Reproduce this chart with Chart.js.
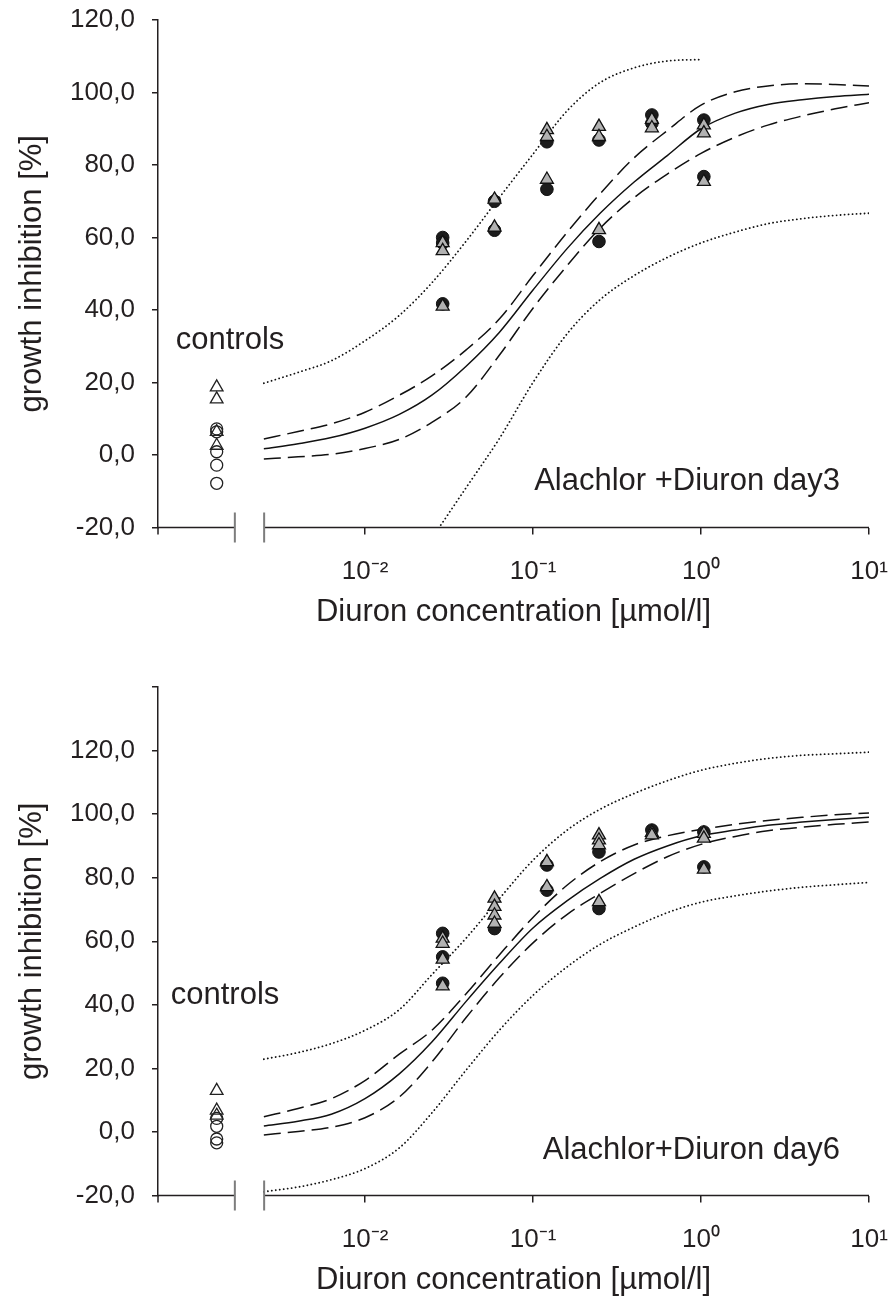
<!DOCTYPE html>
<html><head><meta charset="utf-8">
<script src="https://cdn.jsdelivr.net/npm/chart.js@4/dist/chart.umd.min.js"></script>
<style>
html,body{margin:0;padding:0;background:#fff;}
.panel{width:890px;height:652px;position:relative;}
canvas{display:block;}
</style></head><body>
<div class="panel"><canvas id="c1" width="890" height="652"></canvas></div>
<div class="panel"><canvas id="c2" width="890" height="652"></canvas></div>
<script>
// ---------- axis / tick data ----------
const X_TICKS = [0.01, 0.1, 1, 10];
const X_TICK_LABELS = ['10\u207B\u00B2', '10\u207B\u00B9', '10\u2070', '10\u00B9'];
const X_TITLE = 'Diuron concentration [µmol/l]';
const Y_TITLE = 'growth inhibition [%]';
const CONTROLS_LABEL = 'controls';
const PANEL_LABELS = ['Alachlor +Diuron day3', 'Alachlor+Diuron day6'];

// ---------- fitted curves, x in µmol/l ----------
const CURVE_X = [0.0025,0.004,0.0063,0.01,0.016,0.025,0.04,0.063,0.1,0.16,0.25,0.4,0.63,1,1.6,2.5,4,6.3,10];

const D3_FIT    = [1.7,3.1,4.8,7.4,11.2,16.5,24.5,33.8,45.5,57,66.6,75.3,82.6,90,94.3,96.7,98,98.9,99.5];
const D3_CI_UP  = [4.4,6.5,8.6,11.8,16.5,21.8,29,37.5,49.5,61.5,72,82,89.5,96.5,100.2,101.8,102.4,102.2,101.8];
const D3_CI_LO  = [-1.1,-0.5,0.2,1.8,4.3,9,16,27.5,40.5,52.3,62.5,71,77.5,83.2,87.7,91,93.5,95.5,97.2];
const D3_PI_UP  = [19.8,22.8,26,31.5,38.5,47.5,59,71,83,95,102.7,106.8,108.7,109.1,null,null,null,null,null];
const D3_PI_LO  = [null,null,null,null,null,-23,-9,4.5,20,33.5,42.8,49.5,54.5,58.5,61.5,63.8,65.2,66.1,66.7];

const D6_FIT    = [1.9,3.4,5.6,10.5,18.3,28.3,41.1,53,64.2,72.8,79.7,85.8,90,93.2,95,96.5,97.5,98.3,99];
const D6_CI_UP  = [4.8,7.4,10.5,16.2,24.5,32,43.5,55.7,67.5,77.7,85,90.3,93.2,95.2,96.8,98,99,99.8,100.4];
const D6_CI_LO  = [-0.9,0.2,1.5,4.5,11,22,36,48.5,59.5,68.5,75,81.3,86.6,90.5,93,94.8,95.9,96.8,97.5];
const D6_PI_UP  = [22.9,25,27.8,32,38.5,49.5,61,73.4,85.5,95,101.5,106.5,110.5,113.8,116,117.5,118.5,119,119.5];
const D6_PI_LO  = [-18.8,-17.3,-15,-11.5,-5,6,19.5,32,43,52,59,64.5,69,72.3,74.3,75.8,77,77.8,78.5];

// ---------- measured points ----------
const D3_CIRCLE_X = [0.029,0.029,0.029,0.059,0.059,0.121,0.121,0.247,0.247,0.51,0.51,1.04,1.04];
const D3_CIRCLE_Y = [60.0,58.5,41.7,70.0,62.0,86.4,73.3,86.9,58.9,93.8,91.5,92.4,76.8];
const D3_TRI_X    = [0.029,0.029,0.029,0.059,0.059,0.121,0.121,0.121,0.247,0.247,0.247,0.51,0.51,1.04,1.04,1.04];
const D3_TRI_Y    = [58.5,56.3,41.0,70.5,62.8,89.7,87.8,76.0,90.6,87.8,62.1,92.5,90.2,91.0,88.8,75.4];
const D3_CTRL_CIRCLE = [7.2,6.4,0.9,-2.8,-7.8];
const D3_CTRL_TRI    = [18.7,15.4,6.4,2.6];

const D6_CIRCLE_X = [0.029,0.029,0.029,0.059,0.121,0.121,0.247,0.247,0.51,1.04,1.04];
const D6_CIRCLE_Y = [62.5,55.1,46.8,64.0,84.0,76.1,88.1,70.3,95.0,94.4,83.4];
const D6_TRI_X    = [0.029,0.029,0.029,0.029,0.059,0.059,0.059,0.059,0.121,0.121,0.247,0.247,0.247,0.247,0.51,0.51,1.04,1.04,1.04];
const D6_TRI_Y    = [60.9,59.3,54.3,45.9,73.5,70.9,68.2,65.6,85.0,77.1,93.4,91.8,90.3,72.4,94.2,93.4,93.9,92.4,82.6];
const D6_CTRL_CIRCLE = [4.3,1.8,-2.2,-3.4];
const D6_CTRL_TRI    = [13.0,6.8,5.2];

// ---------- layout constants ----------
const X_MIN = 0.000586, X_MAX = 10;
const CTRL_X = 0.00131;              // plotting position of the controls group
const BREAK_AT = [0.00168, 0.00251]; // axis break marks
const FONT = '"Liberation Sans", Arial, Helvetica, sans-serif';
const INK = '#231f20';

function zip(xs, ys) {
  const out = [];
  xs.forEach((x, i) => { if (ys[i] !== null && ys[i] !== undefined) out.push({x, y: ys[i]}); });
  return out;
}
function fmt(v) { return v.toFixed(1).replace('.', ','); }

const brokenAxis = {
  id: 'brokenAxis',
  afterDraw(chart, args, opts) {
    const {ctx, chartArea} = chart;
    const xs = chart.scales.x;
    const yb = chartArea.bottom;
    const b1 = xs.getPixelForValue(BREAK_AT[0]);
    const b2 = xs.getPixelForValue(BREAK_AT[1]);
    ctx.save();
    ctx.strokeStyle = INK; ctx.lineWidth = 1.5;
    ctx.beginPath();
    ctx.moveTo(chartArea.left - 0.75, yb); ctx.lineTo(b1, yb);
    ctx.moveTo(b2, yb); ctx.lineTo(chartArea.right, yb);
    ctx.moveTo(chartArea.left, yb); ctx.lineTo(chartArea.left, yb + 7);
    ctx.stroke();
    ctx.strokeStyle = '#7d7d7d'; ctx.lineWidth = 2;
    ctx.beginPath();
    ctx.moveTo(b1, yb - 15); ctx.lineTo(b1, yb + 15);
    ctx.moveTo(b2, yb - 15); ctx.lineTo(b2, yb + 15);
    ctx.stroke();
    ctx.fillStyle = INK;
    ctx.font = '31px ' + FONT;
    ctx.textBaseline = 'middle';
    for (const n of opts.notes) {
      ctx.textAlign = n.align;
      ctx.fillText(n.text, n.px, n.py);
    }
    ctx.restore();
  }
};

function lineDs(data, dash, width) {
  return { data, showLine: true, pointRadius: 0, borderColor: '#111', borderWidth: width,
           borderDash: dash, borderCapStyle: dash.length && dash[0] < 1 ? 'round' : 'butt',
           cubicInterpolationMode: 'monotone', fill: false, order: 3 };
}

function makeChart(id, p) {
  const ctrlCirc = p.ctrlCircle.map(y => ({x: CTRL_X, y}));
  const ctrlTri = p.ctrlTri.map(y => ({x: CTRL_X, y}));
  const DOT = [0.1, 3.9], DASH = [17, 7];
  return new Chart(document.getElementById(id), {
    type: 'line',
    data: { datasets: [
      { data: zip(p.triX, p.triY), showLine: false, pointStyle: 'triangle', pointRadius: 7.5,
        backgroundColor: '#b2b2b2', borderColor: '#111', borderWidth: 1.3, order: 0 },
      { data: ctrlTri, showLine: false, pointStyle: 'triangle', pointRadius: 7.3,
        backgroundColor: 'rgba(0,0,0,0)', borderColor: '#222', borderWidth: 1.3, order: 0 },
      { data: zip(p.circX, p.circY), showLine: false, pointStyle: 'circle', pointRadius: 6.3,
        backgroundColor: '#1c1c1c', borderColor: '#111', borderWidth: 1, order: 1 },
      { data: ctrlCirc, showLine: false, pointStyle: 'circle', pointRadius: 6,
        backgroundColor: 'rgba(0,0,0,0)', borderColor: '#222', borderWidth: 1.3, order: 1 },
      lineDs(zip(CURVE_X, p.fit), [], 1.5),
      lineDs(zip(CURVE_X, p.ciUp), DASH, 1.5),
      lineDs(zip(CURVE_X, p.ciLo), DASH, 1.5),
      lineDs(zip(CURVE_X, p.piUp), DOT, 1.8),
      lineDs(zip(CURVE_X, p.piLo), DOT, 1.8)
    ]},
    options: {
      responsive: false, animation: false, events: [],
      layout: { padding: { top: p.padTop, right: 21, left: 0, bottom: 0 } },
      plugins: { legend: {display: false}, tooltip: {enabled: false}, brokenAxis: { notes: p.notes } },
      scales: {
        x: {
          type: 'logarithmic', min: X_MIN, max: X_MAX, bounds: 'data',
          afterBuildTicks: s => { s.ticks = X_TICKS.map(v => ({value: v})); },
          afterFit: s => { s.height = p.xAxisH; s.paddingLeft = 0; s.paddingRight = 0; },
          border: { display: false },
          grid: { drawOnChartArea: false, drawTicks: true, tickLength: 7, color: INK, lineWidth: 1.5 },
          ticks: { callback: (v, i) => X_TICK_LABELS[i], autoSkip: false, maxRotation: 0,
                   font: { size: 26, family: FONT }, color: INK, padding: 22 },
          title: { display: true, text: X_TITLE, color: INK, font: { size: 31, family: FONT },
                   padding: { top: 0, bottom: p.xTitlePad } }
        },
        y: {
          min: -20, max: p.yMax,
          afterFit: s => { s.width = 158; s.paddingTop = 0; s.paddingBottom = 0; },
          border: { display: true, color: INK, width: 1.5 },
          grid: { drawOnChartArea: false, drawTicks: true, tickLength: 6, color: INK, lineWidth: 1.5 },
          ticks: { stepSize: 20, callback: v => (v > 120 ? '' : fmt(v)),
                   font: { size: 26, family: FONT }, color: INK, padding: 17 },
          title: { display: true, text: Y_TITLE, color: INK, font: { size: 31, family: FONT },
                   padding: { top: 14, bottom: 0 } }
        }
      }
    },
    plugins: [brokenAxis]
  });
}

makeChart('c1', {
  yMax: 120, padTop: 20, xAxisH: 124.5, xTitlePad: 21,
  fit: D3_FIT, ciUp: D3_CI_UP, ciLo: D3_CI_LO, piUp: D3_PI_UP, piLo: D3_PI_LO,
  circX: D3_CIRCLE_X, circY: D3_CIRCLE_Y, triX: D3_TRI_X, triY: D3_TRI_Y,
  ctrlCircle: D3_CTRL_CIRCLE, ctrlTri: D3_CTRL_TRI,
  notes: [ {text: CONTROLS_LABEL, px: 230, py: 340, align: 'center'},
           {text: PANEL_LABELS[0], px: 840, py: 481, align: 'right'} ]
});
makeChart('c2', {
  yMax: 140, padTop: 35, xAxisH: 108.4, xTitlePad: 5,
  fit: D6_FIT, ciUp: D6_CI_UP, ciLo: D6_CI_LO, piUp: D6_PI_UP, piLo: D6_PI_LO,
  circX: D6_CIRCLE_X, circY: D6_CIRCLE_Y, triX: D6_TRI_X, triY: D6_TRI_Y,
  ctrlCircle: D6_CTRL_CIRCLE, ctrlTri: D6_CTRL_TRI,
  notes: [ {text: CONTROLS_LABEL, px: 225, py: 343, align: 'center'},
           {text: PANEL_LABELS[1], px: 840, py: 498, align: 'right'} ]
});
</script>
</body></html>
